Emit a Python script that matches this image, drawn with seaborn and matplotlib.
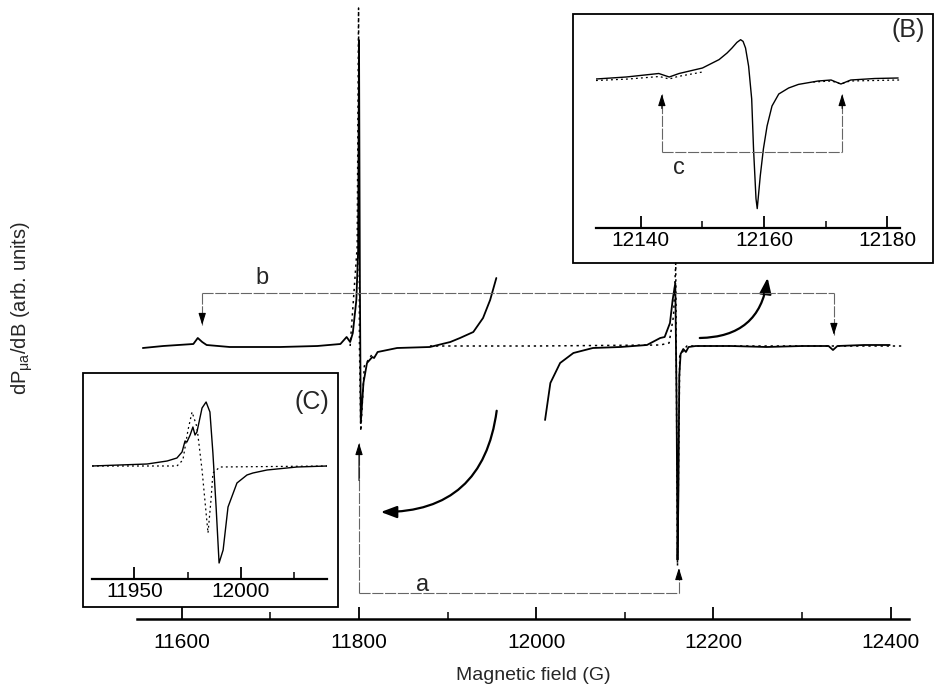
import matplotlib
matplotlib.use("Agg")
import matplotlib.pyplot as plt
from matplotlib.patches import Rectangle, FancyArrowPatch
import seaborn as sns

sns.set_style("white")
plt.rcParams['font.family'] = ['Liberation Sans', 'DejaVu Sans']
plt.rcParams['mathtext.default'] = 'regular'

# ---- main spectrum (solid) ----
main_field_low = [11556, 11579, 11613, 11618, 11623, 11628, 11654, 11711, 11753, 11779,
                  11786, 11790, 11793, 11797, 11799, 11800, 11801, 11802, 11805, 11809,
                  11815, 11817, 11821, 11843, 11880, 11903, 11914, 11929, 11940, 11948, 11955]
main_sig_low = [-2, 0, 2, 8, 4, 1, -1, -1, 0, 2,
                9, 4, 13, 46, 96, 306, 60, -77, -37, -17,
                -11, -12, -6, -2, -1, 4, 8, 14, 28, 46, 68]

main_field_high = [12010, 12016, 12027, 12042, 12064, 12095, 12125, 12140, 12145, 12151,
                   12154, 12157, 12158.5, 12159.5, 12160.5, 12161.5, 12163, 12166, 12169, 12172,
                   12180, 12220, 12260, 12300, 12330, 12335, 12340, 12370, 12399]
main_sig_high = [-74, -37, -17, -7, -2, -1, 1, 8, 9, 23,
                 46, 63, -60, -214, -150, -30, -8, -3, -6, -1,
                 0, 0, -1, 0, 0, -4, 0, 1, 1]

# ---- reference spectrum (dotted) ----
ref_field_a = [11790, 11798, 11799.5, 11800.5, 11802, 11806, 11815]
ref_sig_a = [0, 100, 338, 0, -85, -20, -8]
ref_field_b = [11880, 12000, 12140, 12150, 12155, 12157.5, 12159.5, 12162, 12170, 12414]
ref_sig_b = [0, 0, 1, 3, 30, 83, -220, -10, 0, 0]

main_ticks = [11600, 11800, 12000, 12200, 12400]
main_minor = [11700, 11900, 12100, 12300]

# ---- inset (B) ----
b_field = [12132.7, 12137.6, 12142.9, 12144.6, 12146.2, 12150.0, 12152.7, 12154.0, 12154.8, 12155.6,
           12156.2, 12156.6, 12157.0, 12157.5, 12158.0, 12158.3, 12158.7, 12158.9, 12159.4, 12159.9,
           12160.5, 12161.3, 12162.4, 12164.0, 12165.6, 12168.8, 12170.9, 12172.5, 12174.1, 12178.0,
           12181.8]
b_sig = [-1, 1, 4.5, 1, 4.5, 10, 18.4, 25, 30, 35.6,
         38.3, 36.6, 30, 11.8, -21, -71, -120.7, -130.6, -97.5, -71,
         -48, -28, -16, -10, -6.4, -3, -2, -6, -2, -0.5,
         0]
b_ref_field_l = [12132.7, 12138, 12143, 12144.6, 12146, 12150]
b_ref_sig_l = [-2.5, -1, 1.5, -1, 1.5, 6]
b_ref_field_r = [12168, 12171, 12172.5, 12174, 12182]
b_ref_sig_r = [-4, -3, -6, -3, -2]
b_ticks = [12140, 12160, 12180]
b_minor = [12150, 12170]

# ---- inset (C) ----
c_field = [11930.1, 11956.0, 11965.4, 11970.0, 11972.4, 11973.8, 11974.7, 11976.2, 11977.5, 11978.5,
           11979.4, 11981.8, 11983.7, 11985.5, 11986.9, 11988.4, 11989.8, 11991.7, 11994.0, 11998.2,
           12002.9, 12005.7, 12012.3, 12026.4, 12040.5]
c_sig = [0, 2, 5, 8, 14, 25, 24, 31, 39, 31,
         34, 58, 64, 54, 13, -41, -97, -84, -41, -17,
         -9, -7, -4, -1, 0]
c_ref_field = [11930.1, 11970.0, 11972.8, 11975.2, 11977.1, 11979.4, 11981.8, 11983.7, 11984.6, 11986.0,
               11986.9, 11990.2, 12040.5]
c_ref_sig = [0, 0, 6, 36, 54, 39, -4, -47, -67, -34, -7, -1, 0]
c_ticks = [11950, 12000]
c_minor = [11975, 12025]

W, H = 937, 687
fig = plt.figure(figsize=(W / 100, H / 100), dpi=100)


def px_box(l, r, t, b):
    return [l / W, 1 - b / H, (r - l) / W, (b - t) / H]


def trace(ax, x, y, dotted=False, lw=1.3):
    if dotted:
        sns.lineplot(x=x, y=y, ax=ax, sort=False, estimator=None, color='k',
                     lw=lw, linestyle=(0, (1.5, 2.5)), zorder=1)
    else:
        sns.lineplot(x=x, y=y, ax=ax, sort=False, estimator=None, color='k', lw=lw, zorder=2)


def style_axis(ax, major, minor, lw=1.6, size=15):
    for s in ['top', 'left', 'right']:
        ax.spines[s].set_visible(False)
    ax.spines['bottom'].set_linewidth(lw)
    ax.spines['bottom'].set_color('k')
    ax.set_facecolor('none')
    ax.set_yticks([])
    ax.set_xticks(major)
    ax.set_xticks(minor, minor=True)
    ax.tick_params(axis='x', which='both', bottom=True, top=False, direction='in', colors='k')
    ax.tick_params(axis='x', which='major', length=9, width=1.3, labelsize=size, pad=6)
    ax.tick_params(axis='x', which='minor', length=5, width=1.1)
    ax.set_xlabel('')
    ax.set_ylabel('')


def bracket(ax, x1, x2, y_bar, tip1, tip2):
    gl = dict(color='0.4', lw=0.8, linestyle=(0, (10, 1.5)))
    ax.plot([x1, x2], [y_bar, y_bar], **gl)
    for x, tip in ((x1, tip1), (x2, tip2)):
        ax.plot([x, x], [y_bar, tip], **gl)
        ax.annotate('', xy=(x, tip), xytext=(x, tip + (y_bar - tip) * 0.25),
                    arrowprops=dict(arrowstyle='-|>,head_length=0.7,head_width=0.22', color='k',
                                    lw=0.8, shrinkA=0, shrinkB=0))


# main axes
ax = fig.add_axes(px_box(137, 909, 0, 619))
trace(ax, ref_field_a, ref_sig_a, dotted=True, lw=1.1)
trace(ax, ref_field_b, ref_sig_b, dotted=True, lw=1.1)
trace(ax, main_field_low, main_sig_low)
trace(ax, main_field_high, main_sig_high)
ax.set_xlim(11549.4, 12420.8)
ax.set_ylim(-273, 346)
style_axis(ax, main_ticks, main_minor, lw=1.8, size=15)
ax.tick_params(axis='x', which='major', pad=10)

bracket(ax, 11800, 12161, -247, -97, -222)
ax.text(11872, -239, 'a', fontsize=17, ha='center', va='center')
bracket(ax, 11623, 12336, 53, 21, 11)
ax.text(11690, 68, 'b', fontsize=17, ha='center', va='center')

ax.add_patch(FancyArrowPatch((11955.8, -62), (11821.4, -166), connectionstyle='arc3,rad=-0.45',
                             arrowstyle='-|>,head_length=0.8,head_width=0.3', mutation_scale=12,
                             color='k', lw=1.6))
ax.add_patch(FancyArrowPatch((12181.5, 8), (12261.6, 71), connectionstyle='arc3,rad=0.45',
                             arrowstyle='-|>,head_length=0.8,head_width=0.3', mutation_scale=12,
                             color='k', lw=1.6))

fig.text(533 / W, 1 - 676 / H, 'Magnetic field (G)', fontsize=14, ha='center', va='center')
fig.text(22 / W, 1 - 308 / H, r'dP$_{\mu a}$/dB (arb. units)', fontsize=14.5, rotation=90,
         ha='center', va='center')

# inset (B)
fig.add_artist(Rectangle((573 / W, 1 - 263 / H), (933 - 573) / W, (263 - 14) / H,
                         transform=fig.transFigure, fill=False, ec='k', lw=1.3))
axb = fig.add_axes(px_box(596, 900, 30, 228))
trace(axb, b_ref_field_l, b_ref_sig_l, dotted=True, lw=0.9)
trace(axb, b_ref_field_r, b_ref_sig_r, dotted=True, lw=0.9)
trace(axb, b_field, b_sig, lw=1.0)
axb.set_xlim(12132.7, 12182.1)
axb.set_ylim(-150, 48)
style_axis(axb, b_ticks, b_minor, size=15)
axb.tick_params(axis='x', which='major', pad=2)
bracket(axb, 12143.4, 12172.7, -74, -16, -16)
axb.text(12146.2, -90, 'c', fontsize=17, ha='center', va='center')
fig.text(908 / W, 1 - 30 / H, '(B)', fontsize=18, ha='center', va='center')

# inset (C)
fig.add_artist(Rectangle((83 / W, 1 - 607 / H), (338 - 83) / W, (607 - 373) / H,
                         transform=fig.transFigure, fill=False, ec='k', lw=1.3))
axc = fig.add_axes(px_box(92, 327, 385, 579))
trace(axc, c_ref_field, c_ref_sig, dotted=True, lw=0.9)
trace(axc, c_field, c_sig, lw=1.0)
axc.set_xlim(11930.1, 12040.5)
axc.set_ylim(-113, 81)
style_axis(axc, c_ticks, c_minor, size=15)
axc.tick_params(axis='x', which='major', pad=2)
fig.text(312 / W, 1 - 402 / H, '(C)', fontsize=18, ha='center', va='center')

fig.savefig('out.png', dpi=100)
